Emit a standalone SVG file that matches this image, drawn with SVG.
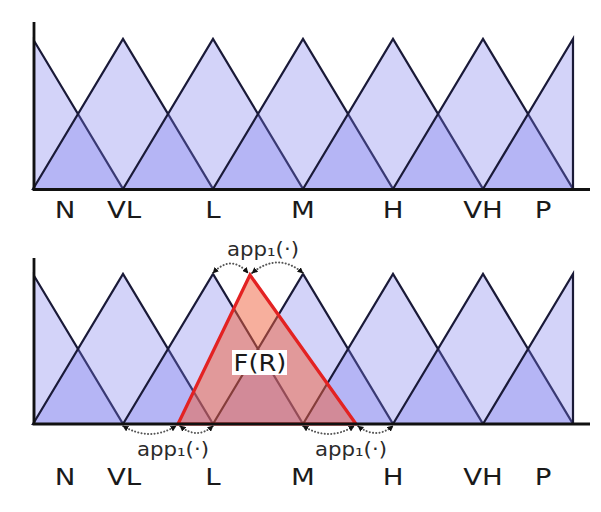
<svg xmlns="http://www.w3.org/2000/svg" width="601" height="512" viewBox="0 0 601 512">
<defs>
<style>
.mf{fill:#7878ee;fill-opacity:0.33;stroke:#1a1a38;stroke-width:2.2;stroke-linejoin:miter}
.ax{stroke:#111;stroke-width:2.8;fill:none}
.lbl{font-family:"DejaVu Sans",sans-serif;font-size:23px;fill:#1a1a1a;text-anchor:middle}
.app{font-family:"DejaVu Sans",sans-serif;font-size:19px;fill:#2a2a2a;text-anchor:middle}
.arc{fill:none;stroke:#555;stroke-width:2;stroke-dasharray:0.1 3.2;stroke-linecap:round}
.fr{fill:#f0603c;fill-opacity:0.5;stroke:#e32222;stroke-width:3.2;stroke-linejoin:miter}
</style>
<marker id="ah" viewBox="0 0 10 10" refX="9" refY="5" markerWidth="6" markerHeight="6" orient="auto-start-reverse" markerUnits="userSpaceOnUse">
<path d="M0,0 L10,5 L0,10 z" fill="#111"/>
</marker>
</defs>
<rect width="601" height="512" fill="#fff"/>

<!-- Top chart -->
<g id="top-chart">
<g id="top-N"><polygon class="mf" points="34,40.7 123,189 34,189"/></g>
<g id="top-VL"><polygon class="mf" points="33,189 123,39 213,189"/></g>
<g id="top-L"><polygon class="mf" points="123,189 213,39 303,189"/></g>
<g id="top-M"><polygon class="mf" points="213,189 303,39 393,189"/></g>
<g id="top-H"><polygon class="mf" points="303,189 393,39 483,189"/></g>
<g id="top-VH"><polygon class="mf" points="393,189 483,39 573,189"/></g>
<g id="top-P"><polygon class="mf" points="483,189 573,39 573,189"/></g>
<path class="ax" d="M34,22 V189.5 H590"/>
<g transform="translate(0,218)">
<text class="lbl" transform="translate(65,0) scale(1.2,1)">N</text>
<text class="lbl" transform="translate(124,0) scale(1.2,1)">VL</text>
<text class="lbl" transform="translate(213,0) scale(1.2,1)">L</text>
<text class="lbl" transform="translate(303,0) scale(1.2,1)">M</text>
<text class="lbl" transform="translate(393,0) scale(1.2,1)">H</text>
<text class="lbl" transform="translate(483,0) scale(1.2,1)">VH</text>
<text class="lbl" transform="translate(543,0) scale(1.2,1)">P</text>
</g>
</g>

<!-- Bottom chart -->
<g id="bottom-chart">
<g id="bot-N"><polygon class="mf" points="34,275.7 123,424 34,424"/></g>
<g id="bot-VL"><polygon class="mf" points="33,424 123,274 213,424"/></g>
<g id="bot-L"><polygon class="mf" points="123,424 213,274 303,424"/></g>
<g id="bot-M"><polygon class="mf" points="213,424 303,274 393,424"/></g>
<g id="bot-H"><polygon class="mf" points="303,424 393,274 483,424"/></g>
<g id="bot-VH"><polygon class="mf" points="393,424 483,274 573,424"/></g>
<g id="bot-P"><polygon class="mf" points="483,424 573,274 573,424"/></g>
<g id="FR">
<polygon class="fr" points="178,424 250,275 356,424"/>
</g>
<path class="ax" d="M34,258 V424 H590"/>
<g id="FR-label">
<rect x="232" y="350" width="55" height="25" fill="#fff"/>
<text class="lbl" transform="translate(260,371) scale(1.12,1)">F(R)</text>
</g>
<g transform="translate(0,485)">
<text class="lbl" transform="translate(65,0) scale(1.2,1)">N</text>
<text class="lbl" transform="translate(124,0) scale(1.2,1)">VL</text>
<text class="lbl" transform="translate(213,0) scale(1.2,1)">L</text>
<text class="lbl" transform="translate(303,0) scale(1.2,1)">M</text>
<text class="lbl" transform="translate(393,0) scale(1.2,1)">H</text>
<text class="lbl" transform="translate(483,0) scale(1.2,1)">VH</text>
<text class="lbl" transform="translate(543,0) scale(1.2,1)">P</text>
</g>
</g>

<!-- Connectors -->
<g id="connectors">
<path class="arc" d="M213,273 Q231,254 248,273" marker-start="url(#ah)" marker-end="url(#ah)"/>
<path class="arc" d="M252,273 Q278,252 303,273" marker-start="url(#ah)" marker-end="url(#ah)"/>
<path class="arc" d="M123,426 Q150,442 176,426" marker-start="url(#ah)" marker-end="url(#ah)"/>
<path class="arc" d="M180,426 Q197,440 213,426" marker-start="url(#ah)" marker-end="url(#ah)"/>
<path class="arc" d="M303,426 Q329,442 354,426" marker-start="url(#ah)" marker-end="url(#ah)"/>
<path class="arc" d="M358,426 Q376,440 393,426" marker-start="url(#ah)" marker-end="url(#ah)"/>
</g>
<g id="app-labels">
<text class="app" transform="translate(263,256) scale(1.12,1)">app₁(·)</text>
<text class="app" transform="translate(173,456) scale(1.12,1)">app₁(·)</text>
<text class="app" transform="translate(351,456) scale(1.12,1)">app₁(·)</text>
</g>
</svg>
